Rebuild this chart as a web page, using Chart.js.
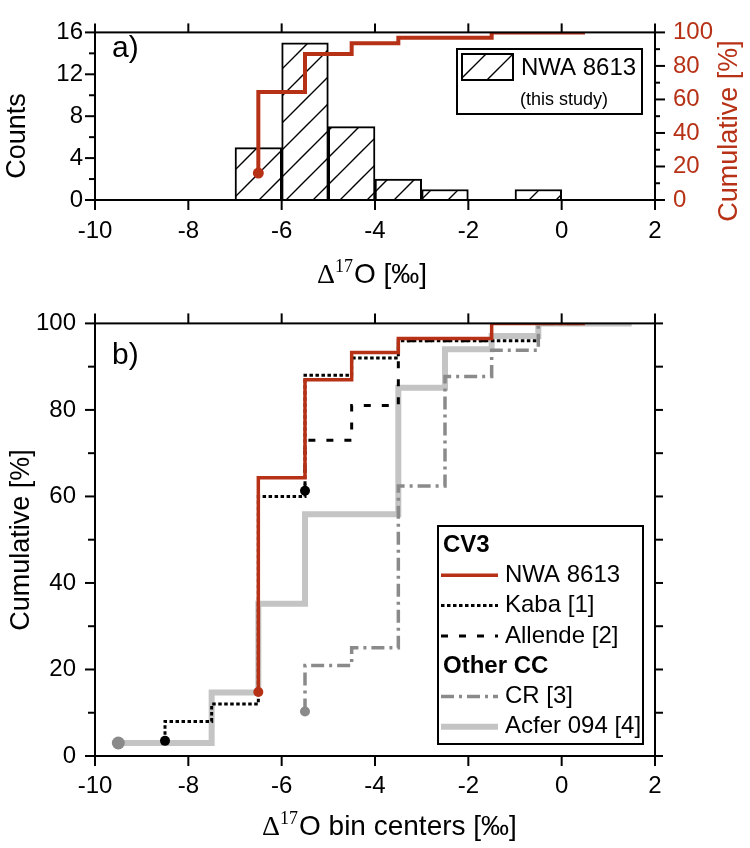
<!DOCTYPE html>
<html>
<head>
<meta charset="utf-8">
<script src="https://cdn.jsdelivr.net/npm/chart.js@4.4.1/dist/chart.umd.min.js"></script>
<style>
  html, body { margin: 0; padding: 0; background: #fff; }
  #wrap { position: relative; width: 750px; height: 848px; }
  .panel { position: absolute; left: 0; width: 750px; }
</style>
</head>
<body>
<div id="wrap">
  <div class="panel" style="top:0;height:290px"><canvas id="histChart" width="750" height="290"></canvas></div>
  <div class="panel" style="top:290px;height:558px"><canvas id="cumChart" width="750" height="558"></canvas></div>
</div>
<script>
// ---- data ----
// a) histogram of NWA 8613 (bin centers, counts) and its cumulative curve
const binCenters = [-6.5, -5.5, -4.5, -3.5, -2.5, -1.5, -0.5];
const nwaCounts = [5, 15, 7, 2, 1, 0, 1];
const histCumX = [-6.5, -5.5, -4.5, -3.5, -2.5, -1.5, -0.5, 0.5];
const histCumY = [16.1, 64.5, 87.1, 93.5, 96.8, 96.8, 100, 100];

// b) cumulative distributions [%] vs bin centers
const nwaX = [-6.5, -5.5, -4.5, -3.5, -2.5, -1.5, -0.5, 0.5];
const nwaY = [14.8, 64.3, 87, 93.3, 96.5, 96.5, 100, 100];
const kabaX = [-8.5, -7.5, -6.5, -5.5, -4.5, -3.5, -2.5, -1.5, -0.5];
const kabaY = [3.5, 8, 12, 60, 88, 92, 96, 96, 96];
const allendeX = [-5.5, -4.5, -3.5, -2.5, -1.5];
const allendeY = [61.3, 73, 81, 96, 96];
const crX = [-5.5, -4.5, -3.5, -2.5, -1.5, -0.5, 0.5];
const crY = [10.3, 20.9, 25, 62.4, 87.7, 93.8, 100];
const acferX = [-9.5, -8.5, -7.5, -6.5, -5.5, -4.5, -3.5, -2.5, -1.5, -0.5, 0.5, 1.5];
const acferY = [3, 3, 3, 14.7, 35.2, 55.9, 55.9, 85.1, 94, 97.1, 100, 100];

// tick labels
const xTicks = [-10, -8, -6, -4, -2, 0, 2];
const countTicks = [0, 4, 8, 12, 16];
const pctTicks = [0, 20, 40, 60, 80, 100];

const RED = '#b73116';
const SANS = '"Liberation Sans", Arial, sans-serif';
const SERIF = '"Liberation Serif", "Times New Roman", serif';

const styles = {
  nwa: { color: RED, width: 3.5, dash: [] },
  kaba: { color: '#000', width: 3, dash: [3.5, 2.5] },
  allende: { color: '#000', width: 3, dash: [7, 11] },
  cr: { color: '#8a8a8a', width: 3.5, dash: [13, 5, 3, 5] },
  acfer: { color: '#c4c4c4', width: 6, dash: [] }
};

// diagonal hatch for the histogram bars
function makeHatch() {
  const s = 27;
  const c = document.createElement('canvas');
  c.width = s; c.height = s;
  const g = c.getContext('2d');
  g.fillStyle = '#fff';
  g.fillRect(0, 0, s, s);
  g.strokeStyle = '#000';
  g.lineWidth = 1.4;
  g.beginPath();
  g.moveTo(-2, s + 2); g.lineTo(s + 2, -2);
  g.moveTo(-2, 2); g.lineTo(2, -2);
  g.moveTo(s - 2, s + 2); g.lineTo(s + 2, s - 2);
  g.stroke();
  return g.createPattern(c, 'repeat');
}
const hatch = makeHatch();

function range(a, b, step) {
  const out = [];
  for (let v = a; v <= b + 1e-9; v += step) out.push(v);
  return out;
}

// frame + outward tick marks (majors and minors)
const frameTicks = {
  id: 'frameTicks',
  afterDatasetsDraw(chart, args, opts) {
    const { ctx, chartArea: a } = chart;
    ctx.save();
    ctx.strokeStyle = '#000';
    ctx.lineWidth = 2;
    ctx.setLineDash([]);
    ctx.strokeRect(a.left, a.top, a.right - a.left, a.bottom - a.top);
    opts.sides.forEach(side => {
      const sc = chart.scales[side.scale];
      side.marks.forEach(([v, len]) => {
        const p = sc.getPixelForValue(v);
        ctx.beginPath();
        if (side.pos === 'bottom') { ctx.moveTo(p, a.bottom); ctx.lineTo(p, a.bottom + len); }
        if (side.pos === 'top') { ctx.moveTo(p, a.top); ctx.lineTo(p, a.top - len); }
        if (side.pos === 'left') { ctx.moveTo(a.left, p); ctx.lineTo(a.left - len, p); }
        if (side.pos === 'right') { ctx.moveTo(a.right, p); ctx.lineTo(a.right + len, p); }
        ctx.stroke();
      });
    });
    ctx.restore();
  }
};

function marks(major, majorLen, minor, minorLen) {
  return major.map(v => [v, majorLen]).concat((minor || []).map(v => [v, minorLen]));
}

function drawDelta(ctx, x, y, rest) {
  ctx.textAlign = 'left';
  ctx.textBaseline = 'alphabetic';
  ctx.fillStyle = '#000';
  ctx.font = '28px ' + SERIF;
  ctx.fillText('\u0394', x, y);
  x += ctx.measureText('\u0394').width;
  ctx.font = '18px ' + SERIF;
  ctx.fillText('17', x, y - 11);
  x += ctx.measureText('17').width + 1;
  ctx.font = '28px ' + SANS;
  ctx.fillText(rest, x, y);
}

function drawRotated(ctx, text, x, y, color) {
  ctx.save();
  ctx.translate(x, y);
  ctx.rotate(-Math.PI / 2);
  ctx.fillStyle = color;
  ctx.font = '27px ' + SANS;
  ctx.textAlign = 'center';
  ctx.textBaseline = 'middle';
  ctx.fillText(text, 0, 0);
  ctx.restore();
}

// titles, panel letter and legend of panel a)
const histDecor = {
  id: 'histDecor',
  afterDraw(chart) {
    const ctx = chart.ctx;
    ctx.save();
    drawRotated(ctx, 'Counts', 18, 136, '#000');
    drawRotated(ctx, 'Cumulative [%]', 730, 131, RED);
    drawDelta(ctx, 317, 283, 'O [\u2030]');
    ctx.fillStyle = '#000';
    ctx.font = '30px ' + SANS;
    ctx.textAlign = 'left';
    ctx.textBaseline = 'alphabetic';
    ctx.fillText('a)', 112, 57);
    // legend box
    ctx.fillStyle = '#fff';
    ctx.fillRect(457, 49, 185, 65);
    ctx.strokeStyle = '#000';
    ctx.lineWidth = 2;
    ctx.strokeRect(457, 49, 185, 65);
    ctx.fillStyle = hatch;
    ctx.fillRect(462, 54, 51, 26);
    ctx.strokeRect(462, 54, 51, 26);
    ctx.fillStyle = '#000';
    ctx.font = '24px ' + SANS;
    ctx.textBaseline = 'middle';
    ctx.fillText('NWA 8613', 521, 68);
    ctx.font = '18px ' + SANS;
    ctx.textAlign = 'center';
    ctx.fillText('(this study)', 564, 100);
    ctx.restore();
  }
};

const legendRows = [
  { head: 'CV3' },
  { label: 'NWA 8613', style: styles.nwa },
  { label: 'Kaba [1]', style: styles.kaba },
  { label: 'Allende [2]', style: styles.allende },
  { head: 'Other CC' },
  { label: 'CR [3]', style: styles.cr },
  { label: 'Acfer 094 [4]', style: styles.acfer }
];

const cumDecor = {
  id: 'cumDecor',
  afterDraw(chart) {
    const ctx = chart.ctx;
    ctx.save();
    drawRotated(ctx, 'Cumulative [%]', 22, 250, '#000');
    drawDelta(ctx, 262, 545, 'O bin centers [\u2030]');
    ctx.fillStyle = '#000';
    ctx.font = '30px ' + SANS;
    ctx.textAlign = 'left';
    ctx.textBaseline = 'alphabetic';
    ctx.fillText('b)', 112, 74);
    // legend
    const bx = 438, by = 236, bw = 205, bh = 218;
    ctx.fillStyle = '#fff';
    ctx.fillRect(bx, by, bw, bh);
    ctx.strokeStyle = '#000';
    ctx.lineWidth = 2;
    ctx.strokeRect(bx, by, bw, bh);
    ctx.textBaseline = 'middle';
    legendRows.forEach((row, i) => {
      const y = by + 19 + i * 30.3;
      if (row.head) {
        ctx.fillStyle = '#000';
        ctx.font = 'bold 24px ' + SANS;
        ctx.fillText(row.head, bx + 5, y);
        return;
      }
      ctx.beginPath();
      ctx.strokeStyle = row.style.color;
      ctx.lineWidth = row.style.width;
      ctx.setLineDash(row.style.dash);
      ctx.moveTo(bx + 3, y);
      ctx.lineTo(bx + 60, y);
      ctx.stroke();
      ctx.setLineDash([]);
      ctx.fillStyle = '#000';
      ctx.font = '24px ' + SANS;
      ctx.fillText(row.label, bx + 67, y);
    });
    ctx.restore();
  }
};

function stepSeries(label, xs, ys, st, dotColor, dotRadius, order) {
  return {
    type: 'line',
    label: label,
    data: xs.map((x, i) => ({ x: x, y: ys[i] })),
    stepped: 'after',
    borderColor: st.color,
    borderWidth: st.width,
    borderDash: st.dash,
    borderCapStyle: 'butt',
    borderJoinStyle: 'miter',
    pointRadius: ctx => ctx.dataIndex === 0 ? dotRadius : 0,
    pointHoverRadius: 0,
    pointBackgroundColor: dotColor,
    pointBorderWidth: 0,
    fill: false,
    order: order
  };
}

function fixedTicks(values) {
  return function(scale) {
    scale.ticks = values.map(v => ({ value: v }));
  };
}

Chart.defaults.font.family = SANS;
Chart.defaults.color = '#000';

// ---- a) histogram ----
const histLine = stepSeries('Cumulative', histCumX, histCumY, { color: RED, width: 4, dash: [] }, RED, 5.5, 0);
histLine.yAxisID = 'y2';

new Chart(document.getElementById('histChart').getContext('2d'), {
  type: 'bar',
  data: {
    datasets: [
      histLine,
      {
        type: 'bar',
        label: 'NWA 8613',
        data: binCenters.map((x, i) => ({ x: x, y: nwaCounts[i] })),
        backgroundColor: hatch,
        borderColor: '#000',
        borderWidth: 2,
        barPercentage: 1,
        categoryPercentage: 1,
        yAxisID: 'y',
        order: 1
      }
    ]
  },
  options: {
    responsive: false,
    animation: false,
    events: [],
    layout: { padding: { top: 17, left: 0, right: 0, bottom: 0 } },
    plugins: {
      legend: { display: false },
      tooltip: { enabled: false },
      frameTicks: {
        sides: [
          { scale: 'x', pos: 'bottom', marks: marks(xTicks, 10) },
          { scale: 'x', pos: 'top', marks: marks(xTicks, 9) },
          { scale: 'y', pos: 'left', marks: marks(countTicks, 10, range(2, 14, 4), 6) },
          { scale: 'y2', pos: 'right', marks: marks(pctTicks, 10, range(10, 90, 20), 5) }
        ]
      }
    },
    scales: {
      x: {
        type: 'linear', position: 'bottom', min: -10, max: 2, offset: false,
        grid: { display: false, drawTicks: false, offset: false }, border: { display: false },
        afterBuildTicks: fixedTicks(xTicks),
        afterFit: s => { s.height = 90; },
        ticks: { font: { size: 24 }, padding: 17, maxRotation: 0 }
      },
      y: {
        position: 'left', min: 0, max: 16,
        grid: { display: false, drawTicks: false }, border: { display: false },
        afterBuildTicks: fixedTicks(countTicks),
        afterFit: s => { s.width = 95; },
        ticks: { font: { size: 24 }, padding: 12 }
      },
      y2: {
        position: 'right', min: 0, max: 100,
        grid: { display: false, drawTicks: false }, border: { display: false },
        afterBuildTicks: fixedTicks(pctTicks),
        afterFit: s => { s.width = 95; },
        ticks: { font: { size: 24 }, padding: 18, color: RED }
      }
    }
  },
  plugins: [frameTicks, histDecor]
});

// ---- b) cumulative curves ----
new Chart(document.getElementById('cumChart').getContext('2d'), {
  type: 'line',
  data: {
    datasets: [
      stepSeries('NWA 8613', nwaX, nwaY, styles.nwa, RED, 5, 0),
      stepSeries('Kaba [1]', kabaX, kabaY, styles.kaba, '#000', 5, 1),
      stepSeries('Allende [2]', allendeX, allendeY, styles.allende, '#000', 5, 2),
      stepSeries('CR [3]', crX, crY, styles.cr, '#8a8a8a', 5, 3),
      stepSeries('Acfer 094 [4]', acferX, acferY, styles.acfer, '#8a8a8a', 6.5, 4)
    ]
  },
  options: {
    responsive: false,
    animation: false,
    events: [],
    layout: { padding: { top: 28, left: 0, right: 95, bottom: 0 } },
    plugins: {
      legend: { display: false },
      tooltip: { enabled: false },
      frameTicks: {
        sides: [
          { scale: 'x', pos: 'bottom', marks: marks(xTicks, 10) },
          { scale: 'x', pos: 'top', marks: marks(xTicks, 10) },
          { scale: 'y', pos: 'left', marks: marks(pctTicks, 10, range(10, 90, 20), 7) },
          { scale: 'y', pos: 'right', marks: marks(range(0, 100, 10), 8) }
        ]
      }
    },
    scales: {
      x: {
        type: 'linear', position: 'bottom', min: -10, max: 2,
        grid: { display: false, drawTicks: false }, border: { display: false },
        afterBuildTicks: fixedTicks(xTicks),
        afterFit: s => { s.height = 92; },
        ticks: { font: { size: 24 }, padding: 16, maxRotation: 0 }
      },
      y: {
        position: 'left', min: 0, max: 100,
        grid: { display: false, drawTicks: false }, border: { display: false },
        afterBuildTicks: fixedTicks(pctTicks),
        afterFit: s => { s.width = 95; },
        ticks: { font: { size: 24 }, padding: 19 }
      }
    }
  },
  plugins: [frameTicks, cumDecor]
});
</script>
</body>
</html>
